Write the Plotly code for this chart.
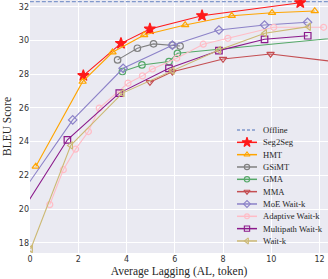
import plotly.graph_objects as go

# ---------------- data ----------------
offline_bleu = 32.3

seg2seg_x = [2.21, 3.77, 4.97, 7.13, 11.2]
seg2seg_y = [27.92, 29.83, 30.68, 31.47, 32.24]

hmt_x = [0.24, 2.18, 3.42, 4.73, 6.43, 8.36, 10.03, 11.8]
hmt_y = [22.53, 27.56, 29.3, 30.33, 30.92, 31.47, 31.64, 31.75]

gsimt_x = [3.63, 4.45, 5.12, 5.9, 6.22]
gsimt_y = [28.85, 29.54, 29.8, 29.73, 29.67]

gma_x = [3.83, 4.64, 5.76, 6.11, 13.0]
gma_y = [28.16, 28.55, 28.75, 29.24, 30.19]

mma_x = [4.97, 5.9, 8.0, 9.97, 13.0]
mma_y = [27.53, 28.15, 28.9, 29.2, 28.68]

moe_x = [-0.3, 1.77, 3.86, 5.9, 7.83, 9.72, 11.5]
moe_y = [21.03, 25.29, 28.35, 29.72, 30.62, 30.92, 31.08]

adaptive_x = [0.82, 1.38, 1.89, 2.42, 2.87, 4.06, 4.66, 5.07, 6.08, 7.18, 8.2, 10.1, 12.17]
adaptive_y = [20.27, 22.34, 23.56, 24.6, 25.99, 27.47, 27.9, 28.31, 28.95, 29.78, 30.13, 30.78, 30.78]

multipath_x = [-0.2, 1.55, 3.7, 5.76, 7.83, 9.72, 11.51]
multipath_y = [20.17, 24.11, 26.88, 28.35, 29.4, 30.07, 30.28]

waitk_x = [0.03, 1.69, 3.83, 5.9, 7.83, 9.73, 11.55]
waitk_y = [17.64, 23.78, 26.88, 28.2, 29.44, 30.43, 30.82]

x_ticks = [0, 2, 4, 6, 8, 10, 12]
y_ticks = [18, 20, 22, 24, 26, 28, 30, 32]

# ---------------- style ----------------
series = [
    ("Seg2Seg", seg2seg_x, seg2seg_y, "#ff1a1a", "star", 8.5),
    ("HMT", hmt_x, hmt_y, "#ffa500", "triangle-up-open", 6.5),
    ("GSiMT", gsimt_x, gsimt_y, "#808080", "circle-open", 6.5),
    ("GMA", gma_x, gma_y, "#55a868", "circle-open", 6.5),
    ("MMA", mma_x, mma_y, "#c44e52", "triangle-down-open", 6.5),
    ("MoE Wait-k", moe_x, moe_y, "#8c82c8", "diamond-open", 6.5),
    ("Adaptive Wait-k", adaptive_x, adaptive_y, "#ffbcc6", "circle-open", 6),
    ("Multipath Wait-k", multipath_x, multipath_y, "#8b1a8b", "square-open", 6.5),
    ("Wait-k", waitk_x, waitk_y, "#ccb974", "triangle-left-open", 6.5),
]
offline_color = "#8098cc"

W, H = 328, 279
L, R, T, B = 30, 0, 0, 26
xr = [0, 12.35]
yr = [17.4, 32.4]

fig = go.Figure()

fig.add_trace(go.Scatter(x=[-1, 14], y=[offline_bleu, offline_bleu], mode="lines",
                         line=dict(color=offline_color, width=1.3, dash="4px,2px"),
                         showlegend=False, hoverinfo="skip"))

for name, xs, ys, col, sym, sz in series:
    fig.add_trace(go.Scatter(
        x=xs, y=ys, mode="lines+markers", name=name, showlegend=False,
        line=dict(color=col, width=1.1),
        marker=dict(symbol=sym, size=sz, color=col, line=dict(color=col, width=1.2)),
    ))

# ---------------- custom compact legend (pixel-space overlay axes) ----------------
leg_y0 = 130.0
leg_dy = 12.33
line_x0, line_x1, mark_x, text_x = 237, 257, 247, 263
legend_entries = [("Offline", None, None, None)] + [(s[0], s[3], s[4], s[5]) for s in series]
for i, (name, col, sym, sz) in enumerate(legend_entries):
    yy = leg_y0 + i * leg_dy
    if col is None:
        fig.add_trace(go.Scatter(x=[line_x0, line_x1], y=[yy, yy], xaxis="x2", yaxis="y2",
                                 mode="lines", line=dict(color=offline_color, width=1.5, dash="3px,2px"),
                                 showlegend=False, hoverinfo="skip"))
    else:
        fig.add_trace(go.Scatter(x=[line_x0, line_x1], y=[yy, yy], xaxis="x2", yaxis="y2",
                                 mode="lines", line=dict(color=col, width=1.5),
                                 showlegend=False, hoverinfo="skip"))
        fig.add_trace(go.Scatter(x=[mark_x], y=[yy], xaxis="x2", yaxis="y2", mode="markers",
                                 marker=dict(symbol=sym, size=sz - 1.2, color=col, line=dict(color=col, width=1.1)),
                                 showlegend=False, hoverinfo="skip"))
    fig.add_annotation(x=text_x, y=yy, xref="x2", yref="y2", text=name, showarrow=False,
                       xanchor="left", yanchor="middle", xshift=-2,
                       font=dict(family="Liberation Serif", size=8.6, color="#262626"))

fig.update_layout(
    width=W, height=H,
    margin=dict(l=L, r=R, t=T, b=B),
    paper_bgcolor="white",
    plot_bgcolor="#eaeaf2",
    showlegend=False,
    xaxis=dict(range=xr, tickvals=x_ticks, showgrid=True, gridcolor="white", gridwidth=1.1,
               zeroline=False, showline=False, ticks="",
               tickfont=dict(family="DejaVu Sans", size=8, color="#333333"),
               title=dict(text="Average Lagging (AL, token)", standoff=3,
                          font=dict(family="Liberation Serif", size=11.5, color="#262626"))),
    yaxis=dict(range=yr, tickvals=y_ticks, showgrid=True, gridcolor="white", gridwidth=1.1,
               zeroline=False, showline=False, ticks="",
               tickfont=dict(family="DejaVu Sans", size=8, color="#333333"),
               title=dict(text="BLEU Score", standoff=4,
                          font=dict(family="Liberation Serif", size=11.5, color="#262626"))),
    xaxis2=dict(overlaying="x", range=[L, W - R], visible=False, fixedrange=True),
    yaxis2=dict(overlaying="y", range=[H - B, T], visible=False, fixedrange=True),
)

fig.write_html("out.html", config={"displayModeBar": False},
               post_script="document.body.style.margin='0';document.body.style.padding='0';")
